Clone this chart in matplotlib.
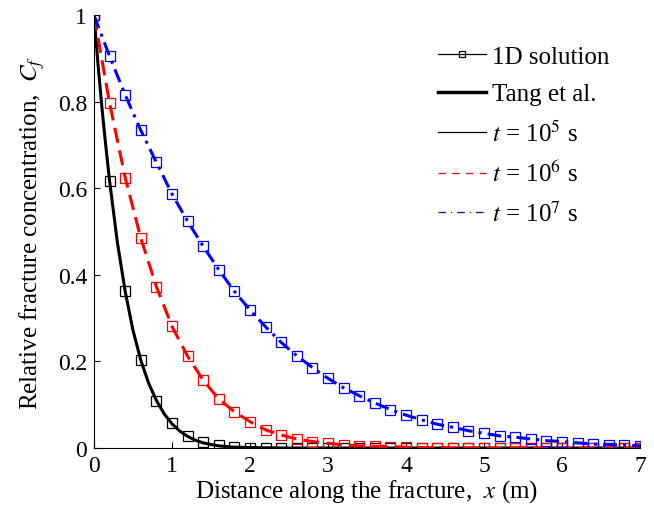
import numpy as np
import matplotlib.pyplot as plt
from matplotlib.lines import Line2D

plt.rcParams['font.family'] = ['Liberation Serif', 'DejaVu Serif']
plt.rcParams['mathtext.fontset'] = 'stix'

# 1D solution, markers every 0.2 m
x_1d = np.round(np.arange(36) * 0.2, 1)
c_1e5 = [1.0, 0.617, 0.362, 0.203, 0.108, 0.058, 0.027, 0.015, 0.007, 0.003,
         0.001, 0.0, 0.0, 0.0, 0.0, 0.0, 0.0, 0.0, 0.0, 0.0, 0.0, 0.0, 0.0, 0.0,
         0.0, 0.0, 0.0, 0.0, 0.0, 0.0, 0.0, 0.0, 0.0, 0.0, 0.0, 0.0]
c_1e6 = [1.0, 0.797, 0.625, 0.485, 0.373, 0.281, 0.212, 0.157, 0.113, 0.084,
         0.061, 0.042, 0.030, 0.021, 0.015, 0.011, 0.007, 0.005, 0.004, 0.003,
         0.002, 0.001, 0.001, 0.0, 0.0, 0.0, 0.0, 0.0, 0.0, 0.0, 0.0, 0.0, 0.0,
         0.0, 0.0, 0.0]
c_1e7 = [1.0, 0.905, 0.816, 0.734, 0.660, 0.587, 0.524, 0.466, 0.412, 0.362,
         0.319, 0.280, 0.244, 0.213, 0.186, 0.161, 0.139, 0.121, 0.104, 0.089,
         0.076, 0.065, 0.055, 0.048, 0.040, 0.034, 0.028, 0.025, 0.021, 0.017,
         0.015, 0.012, 0.009, 0.008, 0.007, 0.005]

# Tang et al. (t = 1e5 s needs a finer grid near the fracture inlet)
x_tang5 = [0.0, 0.05, 0.1, 0.15, 0.2, 0.3, 0.4, 0.5, 0.6, 0.7, 0.8, 0.9, 1.0,
           1.1, 1.2, 1.3, 1.4, 1.5, 1.6, 1.8, 2.0, 2.5, 7.0]
c_tang5 = [1.0, 0.89, 0.79, 0.70, 0.617, 0.475, 0.362, 0.272, 0.203, 0.150,
           0.110, 0.079, 0.056, 0.039, 0.027, 0.018, 0.012, 0.008, 0.005, 0.002,
           0.001, 0.0, 0.0]

fig = plt.figure(figsize=(6.54, 5.06), dpi=100)
ax = fig.add_axes([0.1437, 0.1126, 0.835, 0.8554])

ax.plot(x_tang5, c_tang5, color='k', lw=2.2)
ax.plot(x_1d, c_1e5, ls='none', marker='s', ms=6.5, mfc='none', mec='k', mew=0.9)
ax.plot(x_1d, c_1e6, color='r', lw=2.2, ls=(0, (5, 2.5)))
ax.plot(x_1d, c_1e6, ls='none', marker='s', ms=6.5, mfc='none', mec='r', mew=0.9)
ax.plot(x_1d, c_1e7, color='b', lw=2.2, ls=(0, (4.5, 2, 1, 2)))
ax.plot(x_1d, c_1e7, ls='none', marker='s', ms=6.5, mfc='none', mec='b', mew=0.9)

ax.set_xlim(0, 7)
ax.set_ylim(0, 1)
ax.set_xticks([0, 1, 2, 3, 4, 5, 6, 7])
ax.set_yticks([0, 0.2, 0.4, 0.6, 0.8, 1])
ax.set_yticklabels(['0', '0.2', '0.4', '0.6', '0.8', '1'])
ax.tick_params(direction='in', length=4, width=0.8, labelsize=17, pad=5)
ax.spines['top'].set_visible(False)
ax.spines['right'].set_visible(False)

ax.set_xlabel(r'Distance along the fracture,  $x$ (m)', fontsize=18, labelpad=0.5)
ax.set_ylabel(r'Relative fracture concentration,  $C_f$', fontsize=18, labelpad=8)

handles = [
    Line2D([], [], color='k', lw=0.9, marker='s', ms=5, mfc='none', mew=0.9),
    Line2D([], [], color='k', lw=2.5),
    Line2D([], [], color='k', lw=0.9),
    Line2D([], [], color='r', lw=0.9, ls=(0, (6, 5))),
    Line2D([], [], color='b', lw=0.9, ls=(0, (6, 4, 1, 4))),
]
labels = ['1D solution', 'Tang et al.', r'$t$ = 10$^5$ s', r'$t$ = 10$^6$ s', r'$t$ = 10$^7$ s']
ax.legend(handles, labels, loc='upper left', bbox_to_anchor=(0.63, 0.93), frameon=False,
          fontsize=18, handlelength=1.9, handletextpad=0.25, labelspacing=0.6,
          borderaxespad=0, borderpad=0)

fig.savefig('out.png', dpi=100)
